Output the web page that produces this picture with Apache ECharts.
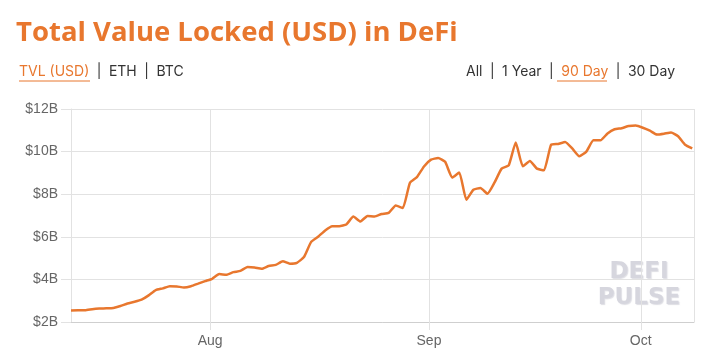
<!DOCTYPE html>
<html>
<head>
<meta charset="utf-8">
<script src="https://cdn.jsdelivr.net/npm/echarts@6/dist/echarts.min.js"></script>
<style>
html,body{margin:0;padding:0;background:#fff;}
#chart{width:716px;height:359px;}
</style>
</head>
<body>
<div id="chart"></div>
<script>
// ---- data (TVL in billions USD, one point per day) ----
var startDate = [2020, 6, 12, 7]; // Jul 12 2020, 07:00 local
var tvlValues = [
  2.54, 2.55, 2.55, 2.60, 2.63, 2.64, 2.66, 2.75, 2.87, 2.95,
  3.05, 3.25, 3.50, 3.58, 3.68, 3.67, 3.62, 3.68, 3.80, 3.92,
  4.03, 4.25, 4.22, 4.34, 4.40, 4.58, 4.56, 4.50, 4.63, 4.68,
  4.85, 4.74, 4.78, 5.05, 5.75, 6.00, 6.30, 6.50, 6.50, 6.58,
  6.95, 6.72, 6.98, 6.95, 7.07, 7.12, 7.47, 7.35, 8.53, 8.80,
  9.30, 9.62, 9.70, 9.52, 8.78, 9.02, 7.74, 8.21, 8.29, 8.02,
  8.55, 9.20, 9.35, 10.43, 9.31, 9.56, 9.20, 9.12, 10.32, 10.36,
  10.45, 10.15, 9.78, 10.00, 10.53, 10.53, 10.85, 11.05, 11.10, 11.20,
  11.22, 11.12, 10.98, 10.80, 10.84, 10.90, 10.72, 10.32, 10.15
];
var yTicks = [2, 4, 6, 8, 10, 12];
var monthNames = ['Jan','Feb','Mar','Apr','May','Jun','Jul','Aug','Sep','Oct','Nov','Dec'];
var titleText = 'Total Value Locked (USD) in DeFi';

var DAY = 86400000;
var t0 = new Date(startDate[0], startDate[1], startDate[2], startDate[3]).getTime();
var seriesData = tvlValues.map(function (v, i) { return [t0 + i * DAY, v]; });

var ORANGE = '#e8772e';
var richStyles = {
  a: {fill: ORANGE, fontSize: 14, fontFamily: 'Inter, sans-serif'},
  s: {fill: '#333', fontSize: 14, fontFamily: 'Inter, sans-serif'},
  p: {fill: '#333', fontSize: 14, fontFamily: 'Inter, sans-serif', padding: [0, 7.5]}
};
var chart = echarts.init(document.getElementById('chart'), null, {renderer: 'canvas'});
chart.setOption({
  animation: false,
  backgroundColor: '#ffffff',
  grid: {left: 71, right: 22, top: 109, bottom: 37, containLabel: false},
  xAxis: {
    type: 'time',
    min: t0,
    max: t0 + (tvlValues.length - 1) * DAY + 0.25 * DAY,
    splitNumber: 3,
    minInterval: 28 * DAY,
    axisLine: {show: true, lineStyle: {color: '#cfcfcf', width: 1}},
    axisTick: {show: true, length: 8, lineStyle: {color: '#e2e2e2'}},
    splitLine: {show: true, lineStyle: {color: '#e2e2e2', width: 1}},
    axisLabel: {
      color: '#666', fontSize: 14, fontFamily: 'Liberation Sans, Arial, sans-serif', margin: 12,
      formatter: function (val) { return monthNames[new Date(val).getMonth()]; }
    }
  },
  yAxis: {
    type: 'value',
    min: yTicks[0],
    max: yTicks[yTicks.length - 1],
    interval: 2,
    axisLine: {show: true, lineStyle: {color: '#e2e2e2', width: 1}},
    axisTick: {show: true, length: 10, lineStyle: {color: '#e2e2e2'}},
    splitLine: {show: true, lineStyle: {color: '#e2e2e2', width: 1}},
    axisLabel: {
      color: '#666', fontSize: 14, fontFamily: 'Liberation Sans, Arial, sans-serif', margin: 13,
      formatter: function (v) { return '$' + v + 'B'; }
    }
  },
  series: [{
    type: 'line',
    data: seriesData,
    showSymbol: false,
    smooth: 0.15,
    lineStyle: {color: ORANGE, width: 2.5},
    itemStyle: {color: ORANGE}
  }],
  graphic: [
    {type: 'text', left: 16, top: 19, style: {
      text: titleText, fill: ORANGE, fontSize: 27.5, fontWeight: 'bold',
      fontFamily: 'Open Sans, sans-serif'}},
    {type: 'text', left: 19, top: 65, style: {
      text: '{a|TVL (USD)}{p||}{s|ETH}{p||}{s|BTC}',
      rich: richStyles}},
    {type: 'line', shape: {x1: 19, y1: 81, x2: 90, y2: 81}, style: {stroke: ORANGE, lineWidth: 1}},
    {type: 'text', right: 41, top: 65, style: {
      text: '{s|All}{p||}{s|1 Year}{p||}{a|90 Day}{p||}{s|30 Day}',
      rich: richStyles}},
    {type: 'line', shape: {x1: 557, y1: 81, x2: 607, y2: 81}, style: {stroke: ORANGE, lineWidth: 1}},
    {type: 'text', x: 639, y: 272, style: {
      text: 'DEFI', fill: '#d6d6de', fontSize: 23, fontWeight: 'bold',
      fontFamily: 'DejaVu Sans, sans-serif', align: 'center', verticalAlign: 'middle',
      textShadowColor: 'rgba(200,200,210,0.6)', textShadowOffsetX: 1, textShadowOffsetY: 1, textShadowBlur: 1}},
    {type: 'text', x: 639, y: 298, style: {
      text: 'PULSE', fill: '#d6d6de', fontSize: 23, fontWeight: 'bold',
      fontFamily: 'DejaVu Sans, sans-serif', align: 'center', verticalAlign: 'middle',
      textShadowColor: 'rgba(200,200,210,0.6)', textShadowOffsetX: 1, textShadowOffsetY: 1, textShadowBlur: 1}}
  ]
});
</script>
</body>
</html>
